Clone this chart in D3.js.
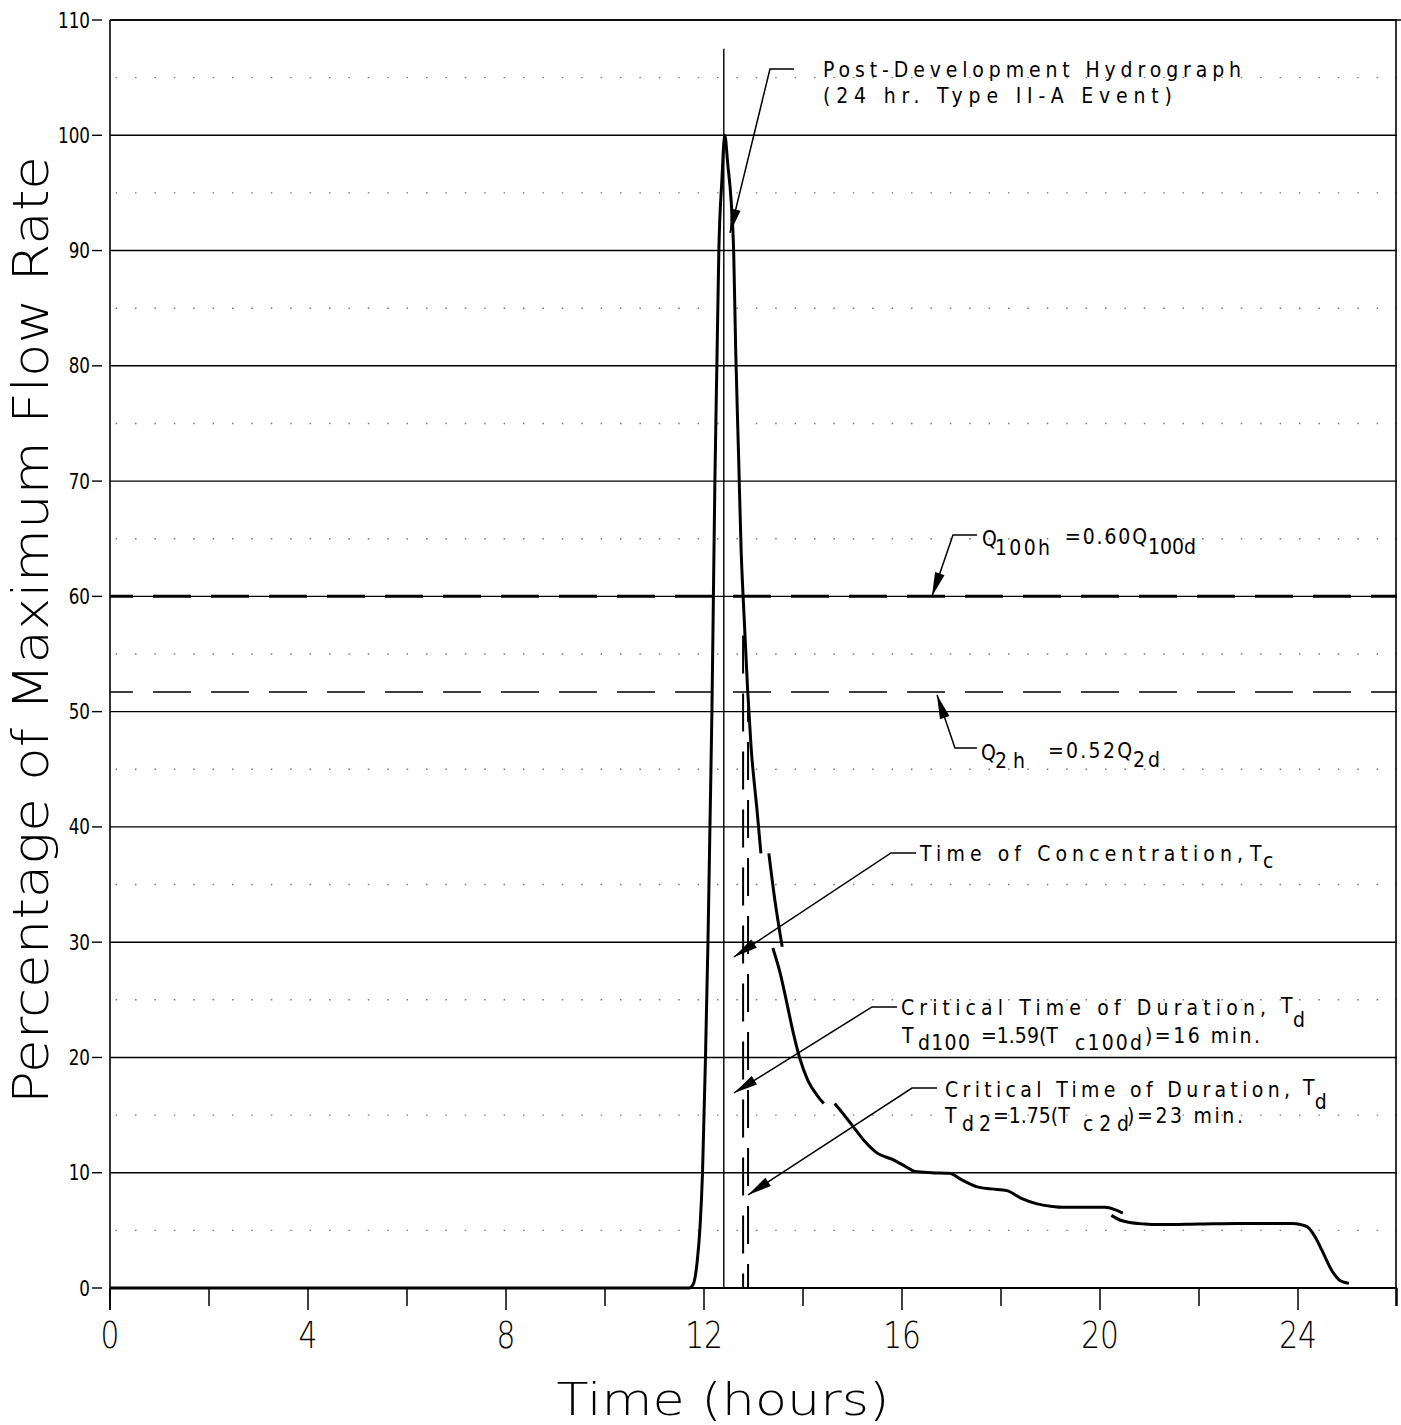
<!DOCTYPE html>
<html><head><meta charset="utf-8">
<script src="https://cdn.jsdelivr.net/npm/d3@7"></script>
<style>body{margin:0;background:#fff} svg{display:block}</style>
</head><body><svg id="c" width="1401" height="1425"></svg>
<script>
// ---------- data ----------
const xMajorTicks = [0, 4, 8, 12, 16, 20, 24];
const xMinorTicks = [2, 6, 10, 14, 18, 22, 26];
const yTicks = [0, 10, 20, 30, 40, 50, 60, 70, 80, 90, 100, 110];
const yDotted = [5, 15, 25, 35, 45, 55, 65, 75, 85, 95, 105];

// hydrograph pieces [time (h), % of max flow]
const hydroA = [[0,0],[11.70,0],[11.78,0.3],[11.86,2.2],[11.92,5.3],[11.97,10],[12.03,20],[12.08,30],[12.12,40],[12.16,50],[12.19,60],[12.22,70],[12.26,80],[12.30,90],[12.36,96],[12.42,100],[12.48,97.5],[12.55,94.2],[12.60,89.8],[12.64,81.4],[12.70,72],[12.75,64],[12.79,60],[12.88,52],[12.95,47],[13.07,41.5],[13.15,37.7]];
const hydroB = [[13.31,37.7],[13.43,33.7],[13.58,29.6]];
const hydroC = [[13.39,29.5],[13.54,27.3],[13.66,25],[13.80,22.2],[13.93,20],[14.10,18.0],[14.27,16.8],[14.42,16.0]];
const hydroD = [[14.64,16.0],[14.85,14.9],[15.04,13.85],[15.25,12.7],[15.5,11.7],[15.81,11.15],[16.05,10.6],[16.27,10.1],[16.6,10.0],[16.96,9.95],[17.2,9.4],[17.5,8.8],[17.8,8.6],[18.12,8.45],[18.4,7.8],[18.73,7.3],[19.0,7.1],[19.3,7.0],[19.7,7.0],[20.1,7.0],[20.3,6.8],[20.46,6.5]];
const hydroE = [[20.23,6.3],[20.4,5.9],[20.58,5.7],[20.9,5.55],[21.19,5.5],[22.0,5.55],[22.8,5.6],[23.5,5.6],[23.9,5.6],[24.1,5.45],[24.22,5.2],[24.35,4.4],[24.48,3.3],[24.6,2.2],[24.67,1.6],[24.75,1.1],[24.83,0.7],[24.93,0.5],[25.03,0.4]];
const hydroPieces = [hydroA, hydroB, hydroC, hydroD, hydroE];

// reference levels
const q100hLevel = 60.0;
const q2hLevel = 51.7;
const peakTimeLine = {t: 12.40, v0: 0, v1: 107.5};
const tdLines = [{t: 12.79, v0: 56.6, v1: 0, offset: 0}, {t: 12.89, v0: 51.7, v1: 0, offset: 8}];

// annotations: leader [end, elbow, tip] in data units
const leaders = [
  [[13.818,105.75],[13.333,105.75],[12.525,91.53]],
  [[17.515,65.32],[17.03,65.32],[16.606,60.0]],
  [[17.515,46.85],[17.07,46.85],[16.707,51.45]],
  [[16.283,37.74],[15.778,37.74],[12.606,28.72]],
  [[15.899,24.38],[15.394,24.38],[12.606,16.92]],
  [[16.707,17.35],[16.202,17.35],[12.889,8.07]]
];
// text pieces [text, t, v, width(px) or 0]
const labels = [
  ["Post-Development Hydrograph", 14.404, 105.06, 418],
  ["(24 hr. Type II-A Event)", 14.404, 102.80, 349],
  ["Q", 17.616, 64.37, 0], ["100h", 17.879, 63.59, 55], ["=0.60Q", 19.293, 64.54, 82], ["100d", 20.97, 63.68, 47],
  ["Q", 17.596, 45.81, 0], ["2h", 17.879, 45.11, 30], ["=0.52Q", 18.95, 45.98, 84], ["2d", 20.667, 45.2, 27],
  ["Time of Concentration,", 16.364, 37.04, 323], ["T", 23.03, 37.04, 0], ["c", 23.293, 36.44, 0],
  ["Critical Time of Duration,", 15.98, 23.68, 365], ["T", 23.657, 23.86, 0], ["d", 23.9, 22.6, 0],
  ["T", 16.0, 21.25, 0], ["d100", 16.323, 20.65, 52], ["=1.59(T", 17.596, 21.25, 61], ["c100d", 19.495, 20.65, 67], [")=16 min.", 20.909, 21.25, 115],
  ["Critical Time of Duration,", 16.869, 16.57, 345], ["T", 24.1, 16.74, 0], ["d", 24.34, 15.5, 0],
  ["T", 16.869, 14.31, 0], ["d2", 17.212, 13.62, 29], ["=1.75(T", 17.838, 14.31, 61], ["c2d", 19.657, 13.62, 46], [")=23 min.", 20.545, 14.31, 116]
];
const xTitle = "Time (hours)";
const yTitle = "Percentage of Maximum Flow Rate";

// ---------- drawing ----------
const FONT = "'DejaVu Sans', sans-serif";
const SX = 0.9; // slight horizontal squeeze to mimic the drafting lettering
const svg = d3.select("#c");
const x = d3.scaleLinear().domain([0, 26]).range([110, 1397]);
const y = d3.scaleLinear().domain([0, 110]).range([1288, 20]);

svg.append("rect").attr("width", 1401).attr("height", 1425).attr("fill", "#fff");

// dotted minor grid
svg.append("g").selectAll("line").data(yDotted).join("line")
  .attr("x1", x(0)).attr("x2", x(26)).attr("y1", d => y(d)).attr("y2", d => y(d))
  .attr("stroke", "#777").attr("stroke-width", 1.4).attr("stroke-dasharray", "1.5,17.9").attr("stroke-dashoffset", 13.8);

// solid grid
svg.append("g").selectAll("line").data(yTicks).join("line")
  .attr("x1", x(0)).attr("x2", x(26)).attr("y1", d => y(d)).attr("y2", d => y(d))
  .attr("stroke", "#000").attr("stroke-width", d => d === 0 ? 2 : 1.4);

// frame
svg.append("line").attr("x1", x(0)).attr("x2", x(0)).attr("y1", y(110)).attr("y2", y(0) + 22).attr("stroke", "#000").attr("stroke-width", 1.6);
svg.append("line").attr("x1", x(26) - 1).attr("x2", x(26) - 1).attr("y1", y(110)).attr("y2", y(0) + 18).attr("stroke", "#000").attr("stroke-width", 1.6);
svg.append("line").attr("x1", x(0)).attr("x2", 1401).attr("y1", y(110)).attr("y2", y(110)).attr("stroke", "#000").attr("stroke-width", 1.6);

// y ticks & labels
const yg = svg.append("g");
yg.selectAll("line").data(yTicks).join("line")
  .attr("x1", x(0) - 18).attr("x2", x(0) - 8).attr("y1", d => y(d)).attr("y2", d => y(d))
  .attr("stroke", "#000").attr("stroke-width", 1.4);
yg.selectAll("text").data(yTicks).join("text")
  .attr("transform", d => `translate(${x(0) - 20},${y(d) + 7.5}) scale(0.8,1)`)
  .attr("text-anchor", "end").attr("font-family", FONT).attr("font-size", 21).attr("fill", "#000")
  .text(d => d);

// x ticks & labels
const xg = svg.append("g");
xg.selectAll("line.maj").data(xMajorTicks).join("line").attr("class", "maj")
  .attr("x1", d => x(d)).attr("x2", d => x(d)).attr("y1", y(0)).attr("y2", y(0) + 22)
  .attr("stroke", "#000").attr("stroke-width", 1.5);
xg.selectAll("line.min").data(xMinorTicks).join("line").attr("class", "min")
  .attr("x1", d => x(d)).attr("x2", d => x(d)).attr("y1", y(0)).attr("y2", y(0) + 18)
  .attr("stroke", "#000").attr("stroke-width", 1.5);
xg.selectAll("text").data(xMajorTicks).join("text")
  .attr("transform", d => `translate(${x(d)},${y(0) + 60}) scale(0.78,1)`)
  .attr("text-anchor", "middle").attr("font-family", FONT).attr("font-weight", 200).attr("font-size", 38).attr("fill", "#000")
  .text(d => d);

// axis titles
svg.append("text").attr("x", 723).attr("y", 1415).attr("text-anchor", "middle")
  .attr("font-family", FONT).attr("font-weight", 200).attr("font-size", 44)
  .attr("textLength", 333).attr("lengthAdjust", "spacingAndGlyphs").text(xTitle);
svg.append("text").attr("transform", "translate(48,630) rotate(-90)").attr("text-anchor", "middle")
  .attr("font-family", FONT).attr("font-weight", 200).attr("font-size", 50)
  .attr("textLength", 948).attr("lengthAdjust", "spacingAndGlyphs").text(yTitle);

// reference level lines
svg.append("line").attr("x1", x(0)).attr("x2", x(26)).attr("y1", y(q100hLevel)).attr("y2", y(q100hLevel))
  .attr("stroke", "#000").attr("stroke-width", 3).attr("stroke-dasharray", "38,20").attr("stroke-dashoffset", 15);
svg.append("line").attr("x1", x(0)).attr("x2", x(26)).attr("y1", y(q2hLevel)).attr("y2", y(q2hLevel))
  .attr("stroke", "#000").attr("stroke-width", 1.4).attr("stroke-dasharray", "38,20").attr("stroke-dashoffset", 15);

// vertical lines
svg.append("line").attr("x1", x(peakTimeLine.t)).attr("x2", x(peakTimeLine.t))
  .attr("y1", y(peakTimeLine.v1)).attr("y2", y(peakTimeLine.v0)).attr("stroke", "#000").attr("stroke-width", 1.4);
svg.append("g").selectAll("line").data(tdLines).join("line")
  .attr("x1", d => x(d.t)).attr("x2", d => x(d.t)).attr("y1", d => y(d.v0)).attr("y2", d => y(d.v1))
  .attr("stroke", "#000").attr("stroke-width", 2).attr("stroke-dasharray", "38,20").attr("stroke-dashoffset", d => d.offset);

// hydrograph
const line = d3.line().x(d => x(d[0])).y(d => y(d[1])).curve(d3.curveMonotoneX);
svg.append("g").selectAll("path").data(hydroPieces).join("path")
  .attr("d", line).attr("fill", "none").attr("stroke", "#000").attr("stroke-width", 3)
  .attr("stroke-linejoin", "round").attr("stroke-linecap", "butt");

// leaders + arrowheads
const lg = svg.append("g");
leaders.forEach(L => {
  const pts = L.map(p => [x(p[0]), y(p[1])]);
  lg.append("path").attr("d", d3.line()(pts)).attr("fill", "none").attr("stroke", "#000").attr("stroke-width", 1.5);
  const tip = pts[2], from = pts[1];
  const dx = from[0] - tip[0], dy = from[1] - tip[1], len = Math.hypot(dx, dy);
  const ux = dx / len, uy = dy / len, nx = -uy, ny = ux, AL = 24, AW = 5;
  lg.append("path").attr("d", `M${tip[0]},${tip[1]}L${tip[0] + ux * AL + nx * AW},${tip[1] + uy * AL + ny * AW}L${tip[0] + ux * AL - nx * AW},${tip[1] + uy * AL - ny * AW}Z`)
    .attr("fill", "#000");
});

// annotation text
svg.append("g").selectAll("text").data(labels).join("text")
  .attr("transform", d => `translate(${x(d[1])},${y(d[2])}) scale(${SX},1)`)
  .attr("font-family", FONT).attr("font-size", 21).attr("fill", "#000")
  .text(d => d[0])
  .each(function(d) {
    if (d[3] && d[3] / SX > this.getComputedTextLength())
      d3.select(this).attr("textLength", d[3] / SX).attr("lengthAdjust", "spacing");
  });
</script></body></html>
